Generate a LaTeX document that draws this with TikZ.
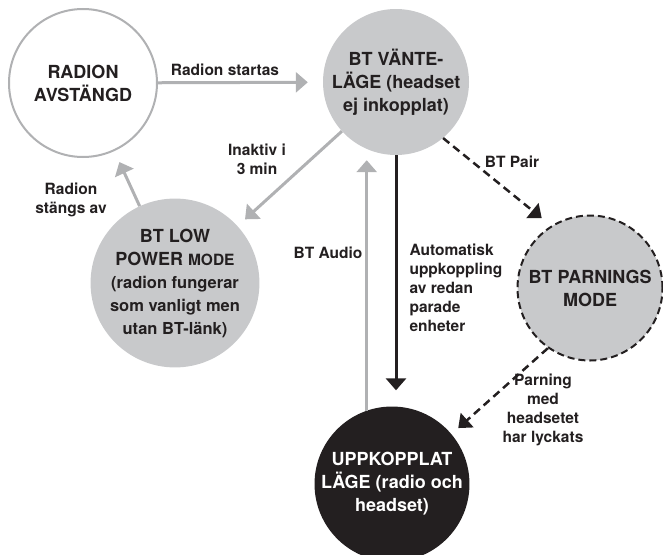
\documentclass[tikz,border=0pt]{standalone}
\usepackage{fontspec}
\setmainfont{TeX Gyre Heros}
\usetikzlibrary{arrows.meta, positioning, calc}
\definecolor{stategray}{RGB}{200,201,203}
\definecolor{arrowgray}{RGB}{176,177,179}
\definecolor{darkink}{RGB}{35,31,32}
\newcommand{\bigtxt}{\fontsize{18}{23}\selectfont\bfseries}
\newcommand{\smltxt}{\fontsize{15.5}{19}\selectfont\bfseries}
\newcommand{\midtxt}{\fontsize{16.5}{19}\selectfont\bfseries}

\begin{document}
\begin{tikzpicture}[x=1pt, y=-1pt,
  state/.style={circle, fill=stategray, inner sep=0pt, align=center,
    font=\bigtxt, text=darkink},
  arr/.style={-{Triangle[length=12pt,width=20pt]}, line width=3pt, draw=arrowgray},
  blackarr/.style={-{Triangle[length=12pt,width=20pt]}, line width=3pt, draw=darkink},
  dasharr/.style={-{Triangle[length=12pt,width=19pt]}, line width=2.5pt,
    draw=darkink, dash pattern=on 8pt off 5pt},
  lbl/.style={font=\smltxt, align=center, text=darkink}
]
  \useasboundingbox (0,0) rectangle (663,554);

  % states
  \node[state, fill=white, draw=arrowgray, line width=2pt, minimum size=148pt]
    (off) at (83,83) {RADION\\AVSTÄNGD};
  \node[state, minimum size=146pt] (wait) at (396,82)
    {BT VÄNTE-\\LÄGE (headset\\ej inkopplat)};
  \node[state, minimum size=138pt] (low) at (175,283)
    {BT LOW\\POWER {\smltxt MODE}\\{\midtxt (radion fungerar}\\
     {\midtxt som vanligt men}\\{\midtxt utan BT-länk)}};
  \node[state, draw=darkink, line width=2pt, dash pattern=on 7pt off 4pt,
    minimum size=145pt] (pair) at (590,288) {BT PARNINGS\\MODE};
  \node[state, fill=darkink, text=white, minimum size=146pt] (conn) at (392,484)
    {UPPKOPPLAT\\LÄGE (radio och\\headset)};

  % transitions
  \draw[arr, shorten >=15pt] (off) -- (wait);
  \draw[arr, shorten >=10pt] (wait) -- (low);
  \draw[arr, shorten >=12pt] (low) -- (off);
  \draw[arr, shorten >=5pt] (conn.109) -- (conn.109 |- wait.south);
  \draw[blackarr, shorten >=16pt] (wait.south) -- (wait.south |- conn.north);
  \draw[dasharr, shorten >=12pt] (wait.-50) -- (pair.122);
  \draw[dasharr, shorten >=9pt] (pair.235) -- (conn.40);

  % labels
  \node[lbl] (startlbl) at (225,70) {Radion startas};
  \node[lbl] (idlelbl) at (257,159) {Inaktiv i\\3 min};
  \node[lbl] (offlbl) at (71,200) {Radion\\stängs av};
  \node[lbl] (audiolbl) at (328,253) {BT Audio};
  \node[lbl, anchor=west, align=left] (autolbl) at (406,288)
    {Automatisk\\uppkoppling\\av redan\\parade\\enheter};
  \node[lbl] (pairlbl) at (512,162) {BT Pair};
  \node[lbl] (donelbl) at (543,410) {Parning\\med\\headsetet\\har lyckats};
\end{tikzpicture}
\end{document}
